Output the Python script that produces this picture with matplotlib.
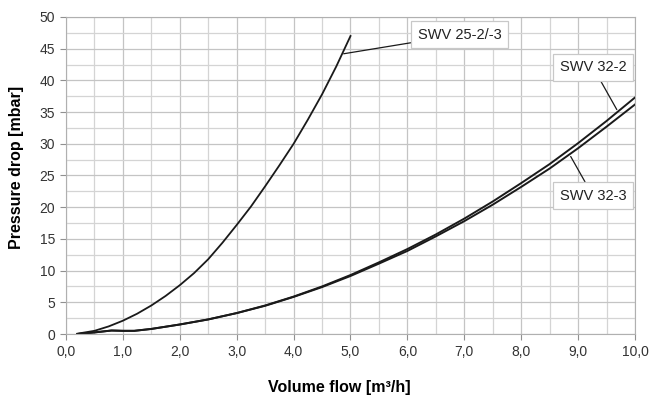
import matplotlib.pyplot as plt
from matplotlib.ticker import MultipleLocator, FuncFormatter

plt.rcParams['font.family'] = ['Liberation Sans', 'DejaVu Sans']

x25 = [0.2, 0.5, 0.75, 1.0, 1.25, 1.5, 1.75, 2.0, 2.25, 2.5, 2.75, 3.0,
       3.25, 3.5, 3.75, 4.0, 4.25, 4.5, 4.75, 5.0]
y25 = [0.05, 0.5, 1.2, 2.1, 3.2, 4.5, 6.0, 7.7, 9.6, 11.8, 14.4, 17.2,
       20.1, 23.3, 26.6, 30.0, 33.8, 37.8, 42.2, 47.0]

x32 = [0.2, 0.5, 0.8, 1.0, 1.2, 1.5, 2.0, 2.5, 3.0, 3.5, 4.0, 4.5, 5.0,
       5.5, 6.0, 6.5, 7.0, 7.5, 8.0, 8.5, 9.0, 9.5, 10.0]
y32_2 = [0.0, 0.25, 0.55, 0.5, 0.5, 0.8, 1.5, 2.3, 3.3, 4.5, 5.9, 7.5, 9.3,
         11.3, 13.4, 15.7, 18.2, 20.9, 23.8, 26.8, 30.1, 33.6, 37.3]
y32_3 = [0.0, 0.25, 0.55, 0.5, 0.5, 0.8, 1.5, 2.3, 3.3, 4.45, 5.85, 7.4, 9.15,
         11.1, 13.1, 15.4, 17.8, 20.4, 23.2, 26.1, 29.3, 32.7, 36.2]

labels = ['SWV 25-2/-3', 'SWV 32-2', 'SWV 32-3']

fig = plt.figure(figsize=(6.51, 3.98), dpi=100)
ax = fig.add_axes([0.1014, 0.1608, 0.874, 0.7965])

ax.plot(x25, y25, color='#1a1a1a', lw=1.3)
ax.plot(x32, y32_2, color='#1a1a1a', lw=1.4)
ax.plot(x32, y32_3, color='#1a1a1a', lw=1.4)

ax.set_xlim(0, 10)
ax.set_ylim(0, 50)
ax.xaxis.set_major_locator(MultipleLocator(1))
ax.xaxis.set_minor_locator(MultipleLocator(0.5))
ax.yaxis.set_major_locator(MultipleLocator(5))
ax.yaxis.set_minor_locator(MultipleLocator(2.5))
ax.xaxis.set_major_formatter(FuncFormatter(lambda v, p: f'{v:.1f}'.replace('.', ',')))
ax.grid(which='major', color='#c4c4c4', lw=0.9)
ax.grid(which='minor', color='#d4d4d4', lw=0.9)
ax.set_axisbelow(True)
for s in ax.spines.values():
    s.set_color('#b0b0b0')
ax.tick_params(which='major', length=4, color='#909090', labelsize=10,
               labelcolor='#333333', pad=4)
ax.tick_params(which='minor', length=0)

ax.set_xlabel('Volume flow [m³/h]', fontsize=11.5, fontweight='bold')
ax.set_ylabel('Pressure drop [mbar]', fontsize=11.5, fontweight='bold')
ax.xaxis.set_label_coords(0.48, -0.145)
ax.yaxis.set_label_coords(-0.074, 0.525)

box = dict(boxstyle='square,pad=0.45', fc='white', ec='#c8c8c8', lw=0.9)
arr = dict(arrowstyle='-', color='#1a1a1a', lw=0.9, shrinkA=0, shrinkB=0)
ax.annotate(labels[0], xy=(4.88, 44.2), xytext=(6.92, 47.2), fontsize=10.5,
            ha='center', va='center', bbox=box, arrowprops=arr, color='#222222')
ax.annotate(labels[1], xy=(9.68, 35.4), xytext=(9.26, 42.1), fontsize=10.5,
            ha='center', va='center', bbox=box, arrowprops=arr, color='#222222')
ax.annotate(labels[2], xy=(8.87, 28.0), xytext=(9.26, 21.8), fontsize=10.5,
            ha='center', va='center', bbox=box, arrowprops=arr, color='#222222')

fig.savefig('out.png', dpi=100)
